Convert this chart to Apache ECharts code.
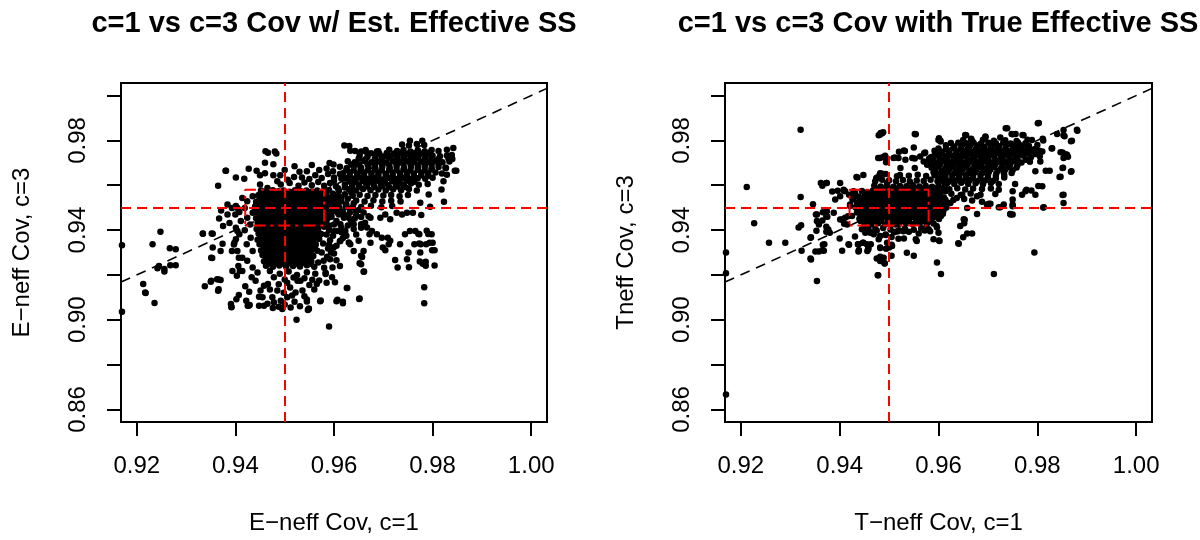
<!DOCTYPE html>
<html>
<head>
<meta charset="utf-8">
<script src="https://cdn.jsdelivr.net/npm/echarts@6/dist/echarts.min.js"></script>
<style>
html, body { margin: 0; background: #fff; }
#chart { width: 1200px; height: 540px; }
</style>
</head>
<body>
<div id="chart"></div>
<script>
// axis ranges and ticks
var xMin = 0.9168, xMax = 1.0032;
var yMin = 0.8544, yMax = 1.0056;
var xTicks = [0.92, 0.94, 0.96, 0.98, 1.00];
var yTicks = [0.86, 0.88, 0.90, 0.92, 0.94, 0.96, 0.98, 1.00];
var yLabels = [0.86, 0.90, 0.94, 0.98];
var nominal = 0.95;
var ciLow = 0.942, ciHigh = 0.958;

// ---- left panel: estimated effective sample size ----
var estCore = [
[.9452,.9577],[.9463,.9572],[.9476,.9578],[.9487,.9573],[.9498,.9576],[.9510,.9571],[.9521,.9578],[.9532,.9574],[.9544,.9577],[.9555,.9572],[.9566,.9576],[.9578,.9573],[.9590,.9578],
[.9446,.9553],[.9457,.9549],[.9469,.9554],[.9480,.9548],[.9492,.9552],[.9503,.9550],[.9515,.9555],[.9526,.9549],[.9538,.9553],[.9549,.9548],[.9560,.9552],[.9572,.9550],[.9584,.9554],[.9596,.9549],[.9609,.9553],
[.9442,.9525],[.9452,.9529],[.9463,.9524],[.9475,.9530],[.9486,.9526],[.9497,.9528],[.9509,.9523],[.9520,.9529],[.9532,.9525],[.9543,.9530],[.9555,.9524],[.9566,.9528],[.9578,.9526],[.9590,.9530],[.9602,.9524],[.9615,.9528],
[.9440,.9505],[.9449,.9500],[.9460,.9506],[.9471,.9501],[.9483,.9504],[.9494,.9499],[.9506,.9506],[.9517,.9502],[.9529,.9505],[.9540,.9500],[.9552,.9504],[.9563,.9501],[.9575,.9506],[.9586,.9502],[.9598,.9505],[.9611,.9500],[.9624,.9504],
[.9438,.9481],[.9447,.9477],[.9458,.9482],[.9469,.9476],[.9480,.9480],[.9492,.9478],[.9503,.9482],[.9515,.9477],[.9526,.9481],[.9538,.9476],[.9549,.9480],[.9561,.9478],[.9572,.9482],[.9584,.9477],[.9596,.9481],[.9608,.9476],
[.9442,.9453],[.9453,.9457],[.9464,.9452],[.9475,.9458],[.9487,.9454],[.9498,.9456],[.9510,.9451],[.9521,.9457],[.9533,.9453],[.9544,.9458],[.9556,.9452],[.9567,.9456],[.9579,.9454],[.9591,.9457],
[.9445,.9433],[.9456,.9429],[.9467,.9434],[.9479,.9428],[.9490,.9432],[.9502,.9430],[.9513,.9435],[.9525,.9429],[.9536,.9433],[.9548,.9428],[.9559,.9432],[.9571,.9430],[.9582,.9434],
[.9443,.9405],[.9453,.9409],[.9464,.9404],[.9476,.9410],[.9487,.9406],[.9499,.9408],[.9510,.9403],[.9522,.9409],[.9533,.9405],[.9545,.9410],[.9556,.9404],[.9568,.9408],
[.9447,.9385],[.9458,.9381],[.9469,.9386],[.9481,.9380],[.9492,.9384],[.9504,.9382],[.9515,.9387],[.9527,.9381],[.9538,.9385],[.9550,.9380],[.9562,.9384],[.9574,.9382],
[.9445,.9357],[.9455,.9361],[.9466,.9356],[.9478,.9362],[.9489,.9358],[.9501,.9360],[.9512,.9355],[.9524,.9361],[.9535,.9357],[.9547,.9362],[.9558,.9356],[.9570,.9360],
[.9449,.9337],[.9460,.9333],[.9471,.9338],[.9483,.9332],[.9494,.9336],[.9506,.9334],[.9517,.9339],[.9529,.9333],[.9540,.9337],[.9552,.9332],[.9563,.9336],
[.9452,.9309],[.9463,.9313],[.9474,.9308],[.9486,.9314],[.9497,.9310],[.9509,.9312],[.9520,.9307],[.9532,.9313],[.9543,.9309],[.9555,.9314],[.9566,.9308],
[.9455,.9289],[.9466,.9285],[.9478,.9290],[.9489,.9284],[.9501,.9288],[.9512,.9286],[.9524,.9291],[.9535,.9285],[.9547,.9289],[.9558,.9284],
[.9458,.9261],[.9470,.9265],[.9482,.9260],[.9494,.9266],[.9506,.9262],[.9518,.9264],[.9530,.9259],[.9542,.9265],[.9554,.9261],
[.9462,.9241],[.9476,.9237],[.9489,.9242],[.9503,.9236],[.9517,.9240],[.9531,.9238],[.9545,.9243],[.9560,.9237]
];
var estFill = [
[.9458,.9563],[.9470,.9561],[.9481,.9564],[.9493,.9562],[.9504,.9565],[.9516,.9561],[.9527,.9564],[.9539,.9562],[.9550,.9565],[.9561,.9561],[.9572,.9564],[.9584,.9562],
[.9452,.9539],[.9463,.9541],[.9475,.9538],[.9486,.9540],[.9498,.9537],[.9509,.9541],[.9521,.9538],[.9532,.9540],[.9544,.9537],[.9555,.9541],[.9566,.9538],[.9578,.9540],[.9590,.9537],[.9602,.9541],
[.9446,.9515],[.9457,.9513],[.9469,.9516],[.9480,.9514],[.9492,.9517],[.9503,.9513],[.9515,.9516],[.9526,.9514],[.9538,.9517],[.9549,.9513],[.9560,.9516],[.9572,.9514],[.9584,.9517],[.9596,.9513],[.9608,.9516],
[.9444,.9491],[.9453,.9493],[.9464,.9490],[.9475,.9492],[.9487,.9489],[.9498,.9493],[.9510,.9490],[.9521,.9492],[.9533,.9489],[.9544,.9493],[.9556,.9490],[.9567,.9492],[.9579,.9489],[.9590,.9493],[.9602,.9490],
[.9448,.9467],[.9458,.9465],[.9469,.9468],[.9481,.9466],[.9492,.9469],[.9504,.9465],[.9515,.9468],[.9527,.9466],[.9538,.9469],[.9550,.9465],[.9561,.9468],[.9573,.9466],[.9585,.9469],
[.9450,.9443],[.9461,.9445],[.9472,.9442],[.9484,.9444],[.9495,.9441],[.9507,.9445],[.9518,.9442],[.9530,.9444],[.9541,.9441],[.9553,.9445],[.9564,.9442],[.9576,.9444],
[.9448,.9419],[.9459,.9417],[.9470,.9420],[.9482,.9418],[.9493,.9421],[.9505,.9417],[.9516,.9420],[.9528,.9418],[.9539,.9421],[.9551,.9417],[.9562,.9420],
[.9452,.9395],[.9463,.9397],[.9475,.9394],[.9486,.9396],[.9498,.9393],[.9509,.9397],[.9521,.9394],[.9532,.9396],[.9544,.9393],[.9556,.9397],[.9568,.9394],
[.9450,.9371],[.9461,.9369],[.9472,.9372],[.9484,.9370],[.9495,.9373],[.9507,.9369],[.9518,.9372],[.9530,.9370],[.9541,.9373],[.9553,.9369],[.9564,.9372],
[.9455,.9347],[.9466,.9349],[.9477,.9346],[.9489,.9348],[.9500,.9345],[.9512,.9349],[.9523,.9346],[.9535,.9348],[.9546,.9345],[.9558,.9349],
[.9458,.9323],[.9469,.9321],[.9480,.9324],[.9492,.9322],[.9503,.9325],[.9515,.9321],[.9526,.9324],[.9538,.9322],[.9549,.9325],[.9561,.9321],
[.9461,.9299],[.9472,.9301],[.9484,.9298],[.9495,.9300],[.9507,.9297],[.9518,.9301],[.9530,.9298],[.9541,.9300],[.9553,.9297],
[.9464,.9275],[.9476,.9273],[.9488,.9276],[.9500,.9274],[.9512,.9277],[.9524,.9273],[.9536,.9276],[.9548,.9274],
[.9470,.9251],[.9484,.9253],[.9498,.9250],[.9512,.9252],[.9526,.9249],[.9540,.9253],[.9553,.9250]
];
var estLower = [
[.9445,.9211],[.9441,.9174],[.9451,.9130],[.9455,.9100],[.9465,.9071],[.9458,.9063],[.9475,.9100],[.9485,.9130],[.9492,.9085],[.9505,.9100],
[.9511,.9144],[.9526,.9174],[.9522,.9122],[.9536,.9130],[.9532,.9174],[.9458,.9152],[.9448,.9103],[.9470,.9218],[.9490,.9205],[.9508,.9215],
[.9525,.9200],[.9545,.9212],[.9562,.9205],[.9478,.9190],[.9500,.9180],[.9518,.9188],[.9540,.9185],[.9556,.9178],[.9466,.9160],[.9488,.9158],
[.9505,.9165],[.9550,.9155],[.9470,.9135],[.9498,.9120],[.9515,.9108],[.9540,.9105],[.9478,.9078],[.9500,.9068],[.9520,.9080],[.9488,.9058],
[.9512,.9055],[.9545,.9082],[.9560,.9135],[.9565,.9160],[.9448,.9062],[.9476,.9052],[.9495,.9048],[.9531,.9060],[.9549,.9049],
[.9568,.9255],[.9580,.9232],[.9592,.9270],[.9575,.9300],[.9588,.9318],[.9600,.9295],[.9583,.9210],[.9596,.9190],[.9612,.9240],[.9605,.9265],
[.9578,.9340],[.9592,.9355],[.9605,.9330],[.9618,.9365],[.9585,.9380],[.9600,.9395],[.9615,.9410],[.9590,.9420],[.9605,.9440],[.9620,.9455],
[.9635,.9440],[.9570,.9175],[.9585,.9165],
[.9595,.9460],[.9610,.9470],[.9585,.9445],[.9600,.9425],[.9615,.9390],[.9628,.9420],[.9640,.9405],[.9625,.9375],[.9590,.9400],[.9580,.9415],
[.9612,.9350],[.9630,.9345],[.9645,.9380],[.9655,.9410],[.9590,.9335],[.9598,.9375]
];
var estLeft = [
[.9424,.9455],[.9435,.9477],[.9430,.9425],[.9419,.9399],[.9431,.9366],[.9423,.9337],[.9435,.9307],[.9424,.9263],[.9435,.9233],[.9391,.9070],
[.9425,.9063],[.9404,.9499],[.9400,.9470],[.9411,.9440],[.9401,.9410],[.9408,.9381],[.9398,.9344],[.9404,.9307],[.9414,.9277],[.9406,.9240],
[.9414,.9218],[.9394,.9218],[.9419,.9499],[.9424,.9529],[.9414,.9543],[.9435,.9551],[.9384,.9514],[.9401,.9507],[.9371,.9487],[.9384,.9469],
[.9388,.9432],[.9375,.9418],[.9367,.9452],[.9393,.9499],[.9408,.9481],[.9404,.9396],[.9401,.9359],[.9393,.9307],[.9334,.9385],[.9352,.9385],
[.9354,.9322],[.9351,.9277],[.9370,.9307],[.9374,.9339],[.9397,.9336],[.9407,.9277],[.9409,.9218],[.9403,.9196],[.9420,.9149],[.9407,.9111],
[.9392,.9058],[.9427,.9062],[.9338,.9149],[.9351,.9174],[.9363,.9181],[.9370,.9177],[.9365,.9129],[.9366,.9136],[.9402,.9091],[.9422,.9085],
[.9429,.9066],[.9353,.9275],[.9433,.9190],[.9428,.9125]
];
var estUpper = [
[.9443,.9665],[.9450,.9644],[.9460,.9654],[.9477,.9644],[.9491,.9644],[.9477,.9694],[.9480,.9750],[.9483,.9742],[.9519,.9637],[.9510,.9610],
[.9450,.9603],[.9465,.9588],[.9492,.9603],[.9485,.9618],[.9506,.9625],[.9418,.9629],[.9381,.9665],[.9365,.9598],[.9448,.9558],[.9461,.9752],
[.9466,.9745],[.9460,.9700],[.9427,.9673],[.9401,.9634],[.9528,.9598],[.9540,.9612],[.9555,.9600],[.9568,.9615],[.9580,.9598],[.9592,.9610],
[.9604,.9596],[.9535,.9635],[.9550,.9628],[.9562,.9645],[.9575,.9632],[.9588,.9650],[.9600,.9635],[.9545,.9662],[.9530,.9660],[.9570,.9668],
[.9585,.9675],[.9598,.9662],[.9612,.9650],[.9520,.9685],[.9555,.9690],[.9591,.9699],[.9599,.9692],[.9500,.9668],
[.9598,.9562],[.9610,.9575],[.9622,.9560],[.9615,.9545],[.9628,.9540],[.9622,.9590],[.9608,.9587],[.9635,.9568],[.9612,.9530],[.9625,.9515],
[.9638,.9503],[.9640,.9520],[.9650,.9490],[.9645,.9465],[.9632,.9495],[.9600,.9620],[.9615,.9630]
];
var estBand = [
[.9738,.9782],[.9752,.9777],[.9768,.9784],[.9783,.9779],[.9754,.9798],[.9779,.9798],[.9631,.9775],[.9643,.9753],[.9665,.9749],[.9621,.9777],
[.9633,.9754],[.9655,.9751],[.9687,.9751],[.9709,.9729],[.9727,.9729],
[.9664,.9757],[.9690,.9752],[.9712,.9758],[.9728,.9753],[.9741,.9757],[.9755,.9751],[.9770,.9756],[.9784,.9752],[.9798,.9757],[.9812,.9753],
[.9652,.9732],[.9668,.9727],[.9685,.9733],[.9700,.9728],[.9715,.9731],[.9729,.9726],[.9743,.9732],[.9758,.9728],[.9772,.9733],[.9786,.9727],[.9800,.9731],[.9815,.9729],[.9829,.9733],
[.9628,.9707],[.9642,.9702],[.9660,.9708],[.9676,.9703],[.9690,.9706],[.9705,.9701],[.9720,.9707],[.9734,.9703],[.9748,.9708],[.9762,.9702],[.9777,.9706],[.9791,.9704],[.9805,.9708],[.9820,.9702],[.9834,.9706],
[.9612,.9682],[.9626,.9677],[.9640,.9683],[.9655,.9678],[.9670,.9681],[.9684,.9676],[.9698,.9682],[.9713,.9678],[.9727,.9683],[.9742,.9677],[.9756,.9681],[.9770,.9679],[.9784,.9683],[.9798,.9677],[.9812,.9681],[.9826,.9678],
[.9618,.9653],[.9632,.9658],[.9647,.9652],[.9661,.9657],[.9676,.9654],[.9690,.9656],[.9705,.9651],[.9719,.9657],[.9734,.9653],[.9748,.9658],[.9762,.9652],[.9777,.9656],[.9791,.9654],[.9806,.9657],[.9819,.9652],
[.9625,.9632],[.9640,.9627],[.9654,.9633],[.9668,.9628],[.9683,.9631],[.9697,.9626],[.9712,.9632],[.9726,.9628],[.9741,.9633],[.9755,.9627],[.9770,.9631],[.9785,.9629],[.9800,.9633],
[.9622,.9603],[.9636,.9608],[.9650,.9602],[.9665,.9607],[.9680,.9604],[.9695,.9606],[.9710,.9601],[.9725,.9607],[.9740,.9603],[.9756,.9608],[.9772,.9602],[.9790,.9606],
[.9630,.9582],[.9644,.9577],[.9659,.9583],[.9674,.9578],[.9690,.9581],[.9705,.9576],[.9720,.9582],[.9736,.9578],[.9752,.9583],[.9768,.9577],
[.9638,.9553],[.9652,.9558],[.9668,.9552],[.9684,.9557],[.9700,.9554],[.9716,.9556],[.9733,.9551],[.9750,.9557],
[.9645,.9532],[.9662,.9527],[.9680,.9533],[.9698,.9528],[.9716,.9531],[.9735,.9527],
[.9655,.9503],[.9675,.9508],[.9696,.9502],[.9718,.9507],
[.9842,.9766],[.9839,.9735],[.9829,.9758],[.9832,.9721],[.9827,.9677],[.9845,.9665],[.9829,.9647],[.9822,.9618],[.9818,.9581],[.9792,.9559],
[.9775,.9522],[.9848,.9665],[.9840,.9717],[.9823,.9526],[.9795,.9504],[.9777,.9467],
[.9618,.9482],[.9632,.9477],[.9645,.9483],[.9660,.9478],[.9628,.9457],[.9642,.9452],[.9655,.9458],[.9670,.9462]
];
var estBandFill = [
[.9675,.9743],[.9692,.9741],[.9707,.9744],[.9722,.9742],[.9736,.9745],[.9750,.9741],[.9765,.9744],[.9779,.9742],[.9793,.9745],
[.9650,.9718],[.9664,.9716],[.9683,.9719],[.9697,.9717],[.9712,.9720],[.9727,.9716],[.9741,.9719],[.9755,.9717],[.9769,.9720],[.9784,.9716],[.9798,.9719],[.9812,.9717],
[.9635,.9693],[.9651,.9691],[.9668,.9694],[.9683,.9692],[.9697,.9695],[.9712,.9691],[.9727,.9694],[.9741,.9692],[.9755,.9695],[.9770,.9691],[.9784,.9694],[.9798,.9692],[.9812,.9695],
[.9625,.9668],[.9640,.9666],[.9654,.9669],[.9669,.9667],[.9683,.9670],[.9697,.9666],[.9712,.9669],[.9727,.9667],[.9741,.9670],[.9755,.9666],[.9770,.9669],[.9784,.9667],[.9798,.9670],
[.9632,.9643],[.9647,.9641],[.9661,.9644],[.9676,.9642],[.9690,.9645],[.9705,.9641],[.9719,.9644],[.9734,.9642],[.9748,.9645],[.9762,.9641],[.9777,.9644],[.9791,.9642],
[.9630,.9618],[.9644,.9616],[.9658,.9619],[.9673,.9617],[.9688,.9620],[.9703,.9616],[.9718,.9619],[.9733,.9617],[.9748,.9620],[.9763,.9616],
[.9637,.9593],[.9652,.9591],[.9667,.9594],[.9682,.9592],[.9697,.9595],[.9712,.9591],[.9728,.9594],[.9744,.9592]
];
var estScatter = [
[.9591,.9462],[.9613,.9426],[.9623,.9396],[.9640,.9426],[.9655,.9426],[.9663,.9433],[.9674,.9455],[.9694,.9455],[.9704,.9470],[.9714,.9448],
[.9727,.9477],[.9738,.9470],[.9748,.9477],[.9760,.9477],[.9754,.9396],[.9765,.9396],[.9773,.9381],[.9744,.9381],[.9776,.9337],[.9787,.9337],
[.9798,.9381],[.9800,.9344],[.9804,.9310],[.9751,.9300],[.9734,.9337],[.9724,.9266],[.9729,.9233],[.9699,.9322],[.9704,.9310],[.9711,.9337],
[.9697,.9366],[.9709,.9366],[.9674,.9344],[.9660,.9307],[.9655,.9285],[.9640,.9307],[.9633,.9337],[.9650,.9352],[.9613,.9352],[.9599,.9322],
[.9594,.9300],[.9586,.9281],[.9579,.9263],[.9597,.9233],[.9583,.9204],[.9602,.9167],[.9626,.9142],[.9651,.9093],[.9618,.9074],[.9605,.9083],
[.9572,.9083],[.9545,.9090],[.9547,.9044],[.9590,.8970],[.9783,.9145],[.9783,.9074],[.9786,.9259],[.9786,.9241],[.9804,.9242],[.9660,.9214],
[.9655,.9248],[.9672,.9381],[.9687,.9381],[.9714,.9352],[.9667,.9411],[.9677,.9396],[.9620,.9470],[.9633,.9448],[.9606,.9396],
[.9170,.9332],[.9170,.9036],[.9248,.9393],[.9232,.9337],[.9267,.9319],[.9279,.9314],[.9279,.9243],[.9242,.9230],[.9256,.9226],[.9256,.9215],
[.9213,.9159],[.9218,.9119],[.9236,.9075],[.9334,.9384],[.9354,.9384],[.9380,.9665],[.9350,.9170],[.9366,.9180],[.9392,.9056],[.9524,.9000],
[.9549,.9049],[.9573,.9086],[.9607,.9089],[.9618,.9080],[.9652,.9095],[.9627,.9142],[.9661,.9215],[.9652,.9252],[.9657,.9280],[.9780,.9250],
[.9799,.9310],[.9794,.9344],[.9791,.9383],[.9773,.9340],[.9775,.9300],[.9774,.9260],[.9748,.9270],[.9752,.9234],[.9788,.9397],[.9771,.9384],
[.9763,.9337],[.9268,.9243],[.9245,.9240],[.9217,.9122]
];

// ---- right panel: true effective sample size ----
var trueCore = [
[.9445,.9574],[.9456,.9569],[.9467,.9575],[.9479,.9570],[.9490,.9573],[.9502,.9568],[.9513,.9575],[.9525,.9571],[.9536,.9574],[.9548,.9569],[.9559,.9573],[.9571,.9570],[.9583,.9575],[.9596,.9570],[.9609,.9574],
[.9438,.9550],[.9449,.9546],[.9460,.9551],[.9472,.9545],[.9483,.9549],[.9495,.9547],[.9506,.9552],[.9518,.9546],[.9529,.9550],[.9541,.9545],[.9552,.9549],[.9564,.9547],[.9575,.9551],[.9587,.9546],[.9599,.9550],[.9611,.9545],
[.9435,.9522],[.9445,.9526],[.9456,.9521],[.9467,.9527],[.9479,.9523],[.9490,.9525],[.9502,.9520],[.9513,.9526],[.9525,.9522],[.9536,.9527],[.9548,.9521],[.9559,.9525],[.9571,.9523],[.9583,.9527],[.9595,.9521],[.9607,.9525],[.9619,.9522],
[.9432,.9502],[.9442,.9498],[.9453,.9503],[.9464,.9497],[.9476,.9501],[.9487,.9499],[.9499,.9504],[.9510,.9498],[.9522,.9502],[.9533,.9497],[.9545,.9501],[.9556,.9499],[.9568,.9503],[.9579,.9498],[.9591,.9502],[.9603,.9497],[.9616,.9501],
[.9435,.9478],[.9446,.9474],[.9457,.9479],[.9469,.9473],[.9480,.9477],[.9492,.9475],[.9503,.9480],[.9515,.9474],[.9526,.9478],[.9538,.9473],[.9549,.9477],[.9561,.9475],[.9572,.9479],[.9584,.9474],[.9596,.9478],[.9609,.9473],
[.9440,.9450],[.9451,.9454],[.9462,.9449],[.9474,.9455],[.9485,.9451],[.9497,.9453],[.9508,.9448],[.9520,.9454],[.9531,.9450],[.9543,.9455],[.9554,.9449],[.9566,.9453],[.9577,.9451],[.9589,.9455],[.9601,.9449],
[.9450,.9430],[.9464,.9426],[.9478,.9431],[.9492,.9425],[.9506,.9429],[.9520,.9427],[.9534,.9432],[.9548,.9426],[.9562,.9430],[.9576,.9425],[.9590,.9429],
[.9445,.9404],[.9458,.9408],[.9472,.9405],[.9488,.9409],[.9503,.9403],[.9518,.9395],[.9532,.9407],[.9550,.9402],[.9565,.9408],[.9580,.9404],
[.9470,.9598],[.9483,.9594],[.9496,.9599],[.9509,.9593],[.9522,.9597],[.9535,.9595],[.9548,.9600],[.9561,.9594],[.9574,.9598],[.9587,.9593],[.9600,.9597],[.9612,.9595],
[.9500,.9622],[.9514,.9618],[.9528,.9623],[.9542,.9617],[.9556,.9621],[.9570,.9619],[.9584,.9624],[.9598,.9618],[.9612,.9622],
[.9522,.9646],[.9540,.9642],[.9558,.9647],[.9575,.9641],[.9592,.9645],[.9608,.9643]
];
var trueFill = [
[.9451,.9560],[.9462,.9562],[.9473,.9559],[.9485,.9561],[.9496,.9558],[.9508,.9562],[.9519,.9559],[.9531,.9561],[.9542,.9558],[.9554,.9562],[.9565,.9559],[.9577,.9561],[.9590,.9558],[.9603,.9562],
[.9441,.9536],[.9451,.9534],[.9462,.9537],[.9474,.9535],[.9485,.9538],[.9497,.9534],[.9508,.9537],[.9520,.9535],[.9531,.9538],[.9543,.9534],[.9554,.9537],[.9566,.9535],[.9578,.9538],[.9590,.9534],[.9602,.9537],[.9614,.9535],
[.9437,.9512],[.9448,.9514],[.9459,.9511],[.9470,.9513],[.9482,.9510],[.9493,.9514],[.9505,.9511],[.9516,.9513],[.9528,.9510],[.9539,.9514],[.9551,.9511],[.9562,.9513],[.9574,.9510],[.9586,.9514],[.9598,.9511],[.9610,.9513],
[.9437,.9488],[.9448,.9486],[.9459,.9489],[.9471,.9487],[.9482,.9490],[.9494,.9486],[.9505,.9489],[.9517,.9487],[.9528,.9490],[.9540,.9486],[.9551,.9489],[.9563,.9487],[.9574,.9490],[.9586,.9486],[.9598,.9489],[.9610,.9487],
[.9443,.9464],[.9454,.9466],[.9465,.9463],[.9477,.9465],[.9488,.9462],[.9500,.9466],[.9511,.9463],[.9523,.9465],[.9534,.9462],[.9546,.9466],[.9557,.9463],[.9569,.9465],[.9581,.9462],[.9593,.9466],[.9605,.9463],
[.9446,.9440],[.9457,.9442],[.9470,.9439],[.9484,.9441],[.9498,.9438],[.9512,.9442],[.9526,.9439],[.9540,.9441],[.9555,.9438],[.9569,.9442],[.9583,.9439],
[.9478,.9584],[.9490,.9586],[.9503,.9583],[.9516,.9585],[.9529,.9582],[.9542,.9586],[.9555,.9583],[.9568,.9585],[.9581,.9582],[.9594,.9586],[.9606,.9583]
];
var trueBand = [
[.9650,.9802],[.9668,.9797],[.9690,.9803],[.9712,.9798],[.9735,.9801],[.9758,.9797],[.9780,.9803],
[.9615,.9778],[.9632,.9773],[.9648,.9779],[.9663,.9774],[.9678,.9777],[.9693,.9772],[.9708,.9778],[.9723,.9774],[.9738,.9779],[.9753,.9773],[.9768,.9777],[.9783,.9775],[.9800,.9779],
[.9592,.9754],[.9607,.9749],[.9622,.9755],[.9637,.9750],[.9652,.9753],[.9667,.9748],[.9682,.9754],[.9697,.9750],[.9712,.9755],[.9727,.9749],[.9742,.9753],[.9757,.9751],[.9772,.9755],[.9787,.9750],[.9804,.9754],
[.9585,.9726],[.9600,.9730],[.9614,.9725],[.9628,.9731],[.9642,.9727],[.9656,.9729],[.9670,.9724],[.9684,.9730],[.9698,.9726],[.9712,.9731],[.9727,.9725],[.9742,.9729],[.9757,.9727],[.9772,.9731],[.9787,.9725],[.9805,.9729],
[.9582,.9706],[.9596,.9701],[.9610,.9707],[.9624,.9702],[.9638,.9705],[.9652,.9700],[.9666,.9706],[.9680,.9702],[.9694,.9707],[.9708,.9701],[.9722,.9705],[.9737,.9703],[.9752,.9707],[.9768,.9701],[.9785,.9705],
[.9586,.9678],[.9600,.9682],[.9614,.9677],[.9628,.9683],[.9642,.9679],[.9656,.9681],[.9670,.9676],[.9684,.9682],[.9698,.9678],[.9712,.9683],[.9727,.9677],[.9742,.9681],[.9758,.9679],
[.9590,.9658],[.9604,.9653],[.9618,.9659],[.9632,.9654],[.9646,.9657],[.9660,.9652],[.9674,.9658],[.9688,.9654],[.9702,.9659],[.9717,.9653],[.9732,.9657],[.9748,.9655],
[.9600,.9630],[.9614,.9634],[.9628,.9629],[.9642,.9635],[.9656,.9631],[.9670,.9633],[.9685,.9628],[.9700,.9634],[.9716,.9630],[.9733,.9635],
[.9618,.9610],[.9632,.9605],[.9646,.9611],[.9660,.9606],[.9675,.9609],[.9690,.9604],[.9706,.9610],[.9722,.9606],
[.9622,.9582],[.9638,.9587],[.9654,.9581],[.9670,.9586],[.9688,.9583],[.9706,.9585],
[.9626,.9562],[.9645,.9557],[.9665,.9563],[.9685,.9558],
[.9630,.9534],[.9652,.9539]
];
var trueBandFill = [
[.9625,.9788],[.9640,.9790],[.9656,.9787],[.9671,.9789],[.9686,.9786],[.9701,.9790],[.9716,.9787],[.9731,.9789],[.9746,.9786],[.9761,.9790],[.9776,.9787],
[.9600,.9764],[.9615,.9762],[.9630,.9765],[.9645,.9763],[.9660,.9766],[.9675,.9762],[.9690,.9765],[.9705,.9763],[.9720,.9766],[.9735,.9762],[.9750,.9765],[.9765,.9763],[.9780,.9766],[.9795,.9762],
[.9593,.9740],[.9607,.9742],[.9621,.9739],[.9635,.9741],[.9649,.9738],[.9663,.9742],[.9677,.9739],[.9691,.9741],[.9705,.9738],[.9720,.9742],[.9735,.9739],[.9750,.9741],[.9765,.9738],[.9780,.9742],[.9796,.9739],
[.9589,.9716],[.9603,.9714],[.9617,.9717],[.9631,.9715],[.9645,.9718],[.9659,.9714],[.9673,.9717],[.9687,.9715],[.9701,.9718],[.9715,.9714],[.9730,.9717],[.9745,.9715],[.9760,.9718],[.9777,.9714],
[.9589,.9692],[.9603,.9694],[.9617,.9691],[.9631,.9693],[.9645,.9690],[.9659,.9694],[.9673,.9691],[.9687,.9693],[.9701,.9690],[.9715,.9694],[.9730,.9691],[.9745,.9693],[.9760,.9690],
[.9593,.9668],[.9607,.9666],[.9621,.9669],[.9635,.9667],[.9649,.9670],[.9663,.9666],[.9677,.9669],[.9691,.9667],[.9705,.9670],[.9720,.9666],[.9735,.9669],[.9750,.9667],
[.9600,.9644],[.9614,.9646],[.9628,.9643],[.9642,.9645],[.9656,.9642],[.9670,.9646],[.9685,.9643],[.9700,.9645],[.9716,.9642],[.9733,.9646],
[.9607,.9620],[.9621,.9618],[.9635,.9621],[.9649,.9619],[.9663,.9622],[.9678,.9618],[.9694,.9621],[.9710,.9619]
];
var trueScatter = [
[.9321,.9847],[.9212,.9592],[.9170,.9300],[.9170,.9208],[.9170,.8667],[.9227,.9430],[.9257,.9344],[.9290,.9344],[.9321,.9548],[.9317,.9412],
[.9322,.9422],[.9346,.9515],[.9354,.9470],[.9354,.9440],[.9366,.9480],[.9375,.9459],[.9373,.9415],[.9377,.9403],[.9353,.9397],[.9342,.9368],
[.9323,.9308],[.9342,.9269],[.9351,.9305],[.9354,.9173],[.9368,.9308],[.9366,.9335],[.9365,.9598],[.9374,.9610],[.9385,.9572],[.9396,.9575],
[.9409,.9575],[.9400,.9362],[.9405,.9308],[.9419,.9335],[.9431,.9371],[.9438,.9304],[.9447,.9344],[.9455,.9337],[.9438,.9337],[.9475,.9273],
[.9478,.9199],[.9491,.9252],[.9494,.9317],[.9482,.9320],[.9505,.9286],[.9462,.9388],[.9482,.9374],[.9493,.9380],[.9505,.9335],[.9434,.9637],
[.9448,.9646],[.9474,.9631],[.9486,.9625],[.9482,.9654],[.9478,.9722],[.9487,.9725],[.9492,.9731],[.9494,.9702],[.9479,.9823],[.9486,.9832],
[.9482,.9826],[.9552,.9829],[.9509,.9722],[.9520,.9749],[.9530,.9755],[.9552,.9719],[.9571,.9743],[.9581,.9719],[.9596,.9749],[.9601,.9810],
[.9604,.9798],[.9614,.9731],[.9631,.9725],[.9638,.9731],[.9656,.9823],[.9666,.9805],[.9695,.9814],[.9736,.9854],[.9748,.9829],[.9756,.9829],
[.9772,.9823],[.9801,.9876],[.9812,.9799],[.9829,.9764],[.9840,.9829],[.9853,.9846],[.9868,.9796],[.9881,.9843],[.9853,.9823],[.9851,.9746],
[.9853,.9721],[.9860,.9736],[.9852,.9678],[.9868,.9660],[.9845,.9637],[.9851,.9557],[.9853,.9521],[.9812,.9501],[.9794,.9300],[.9712,.9204],
[.9597,.9255],[.9605,.9204],[.9601,.9353],[.9597,.9412],[.9640,.9341],[.9650,.9368],[.9658,.9385],[.9668,.9385],[.9651,.9448],[.9652,.9430],
[.9644,.9418],[.9746,.9470],[.9750,.9506],[.9341,.9273],[.9358,.9304],[.9365,.9310],[.9341,.9366],[.9352,.9470],[.9365,.9443],[.9358,.9425],
[.9373,.9462],[.9362,.9610],[.9373,.9610],[.9369,.9337],[.9373,.9393],[.9380,.9388],[.9418,.9337],[.9437,.9337],[.9439,.9310],[.9448,.9344],
[.9458,.9322],[.9456,.9307],[.9463,.9337],[.9482,.9322],[.9482,.9281],[.9491,.9251],[.9477,.9198],[.9500,.9322],[.9401,.9447],[.9409,.9428],
[.9417,.9462],[.9421,.9514],[.9426,.9536],[.9431,.9566],[.9419,.9558],[.9436,.9635],[.9459,.9393],[.9452,.9413],[.9442,.9440],[.9483,.9833],
[.9488,.9836],[.9481,.9721],[.9493,.9724],[.9476,.9635],[.9481,.9647],[.9493,.9650],[.9512,.9724],[.9532,.9753],[.9550,.9768],[.9554,.9827],
[.9547,.9721],[.9552,.9677],[.9570,.9706],[.9573,.9746],[.9513,.9393],[.9520,.9399],[.9530,.9363],[.9554,.9359],[.9493,.9378],[.9505,.9369],
[.9513,.9425],[.9803,.9878],[.9739,.9854],[.9880,.9847],[.9870,.9798],[.9855,.9818],[.9830,.9765],[.9847,.9747],[.9857,.9738],[.9862,.9727],
[.9851,.9677],[.9847,.9638],[.9869,.9662],[.9853,.9558],[.9813,.9502],[.9602,.9351],[.9596,.9418],[.9641,.9339],[.9653,.9446],[.9678,.9472],
[.9658,.9499],[.9698,.9514],[.9705,.9517],[.9725,.9502],[.9750,.9514],[.9750,.9470],[.9745,.9472],[.9750,.9536],[.9750,.9573],[.9755,.9606],
[.9776,.9573],[.9788,.9576],[.9796,.9558],[.9802,.9597],[.9810,.9595],[.9806,.9706],[.9811,.9807],[.9796,.9662],[.9794,.9751],[.9783,.9758],
[.9817,.9665],[.9825,.9665],[.9810,.9751],[.9778,.9580],[.9769,.9558],[.9614,.9573],[.9624,.9521],[.9637,.9543],[.9648,.9558],[.9668,.9532],
[.9678,.9551],[.9688,.9526],[.9715,.9561],[.9722,.9580],[.9702,.9517],[.9722,.9502],[.9732,.9514],[.9600,.9802],[.9604,.9795],[.9654,.9824],
[.9666,.9807],[.9695,.9817],[.9712,.9787],[.9725,.9813],[.9750,.9827],[.9770,.9824],[.9789,.9802],[.9764,.9773],[.9756,.9780],[.9401,.9610],
[.9411,.9573],[.9428,.9573],[.9374,.9484],[.9388,.9477],[.9404,.9447],[.9411,.9455],[.9415,.9425],[.9452,.9388],[.9469,.9381],[.9479,.9359],
[.9496,.9344],[.9506,.9329],[.9519,.9361],[.9529,.9395],[.9556,.9351],[.9583,.9395],[.9590,.9359],[.9600,.9388],[.9489,.9277],[.9482,.9262],
[.9458,.9314],[.9438,.9336],[.9536,.9299],[.9550,.9285],[.9472,.9618],[.9486,.9651],[.9496,.9610],[.9516,.9640],[.9523,.9677],[.9519,.9721],
[.9533,.9714],[.9563,.9728],[.9577,.9691],[.9594,.9736],[.9391,.9536],[.9401,.9551],[.9408,.9580],[.9421,.9507],[.9425,.9463],[.9428,.9543],
[.9460,.9392],[.9475,.9398],[.9510,.9390],[.9540,.9392],[.9560,.9385],[.9572,.9398]
];

var estPoints = estCore.concat(estFill, estLower, estLeft, estUpper, estBand, estBandFill, estScatter);
var truePoints = trueCore.concat(trueFill, trueBand, trueBandFill, trueScatter);

var font = '"Liberation Sans", Arial, sans-serif';
var red = '#ff0000';

function makeX(i, name) {
    return {
        gridIndex: i, type: 'value', min: xMin, max: xMax,
        axisLine: {show: false}, splitLine: {show: false},
        axisTick: {customValues: xTicks, length: 14, lineStyle: {color: '#000', width: 2}},
        axisLabel: {customValues: xTicks, formatter: function (v) { return v.toFixed(2); },
            fontSize: 24, color: '#000', fontFamily: font, margin: 44, verticalAlign: 'middle'},
        name: name, nameLocation: 'middle', nameGap: 101,
        nameTextStyle: {fontSize: 24, color: '#000', fontFamily: font, verticalAlign: 'middle'}
    };
}
function makeY(i, name) {
    return {
        gridIndex: i, type: 'value', min: yMin, max: yMax,
        axisLine: {show: false}, splitLine: {show: false},
        axisTick: {customValues: yTicks, length: 14, lineStyle: {color: '#000', width: 2}},
        axisLabel: {customValues: yLabels, formatter: function (v) { return v.toFixed(2); },
            rotate: 90, fontSize: 24, color: '#000', fontFamily: font, margin: 43,
            align: 'center', verticalAlign: 'middle'},
        name: name, nameLocation: 'middle', nameGap: 99,
        nameTextStyle: {fontSize: 24, color: '#000', fontFamily: font, verticalAlign: 'middle'}
    };
}
function panelSeries(i, pts) {
    return [
        {type: 'scatter', xAxisIndex: i, yAxisIndex: i, data: pts, symbolSize: 6.5,
            itemStyle: {color: '#000', opacity: 1}, silent: true, z: 2},
        {type: 'line', xAxisIndex: i, yAxisIndex: i, data: [[xMin, xMin], [xMax, xMax]],
            symbol: 'none', lineStyle: {color: '#000', width: 1.6, type: [10, 7]}, silent: true, z: 3},
        {type: 'line', xAxisIndex: i, yAxisIndex: i, symbol: 'none', silent: true, z: 4,
            data: [[ciLow, ciLow], [ciHigh, ciLow], [ciHigh, ciHigh], [ciLow, ciHigh], [ciLow, ciLow]],
            lineStyle: {color: red, width: 2, type: [3, 5, 12, 5]},
            markLine: {silent: true, symbol: 'none', label: {show: false},
                lineStyle: {color: red, width: 2, type: [10, 6]},
                data: [{xAxis: nominal}, {yAxis: nominal}]}}
    ];
}

var chart = echarts.init(document.getElementById('chart'));
chart.setOption({
    animation: false,
    backgroundColor: '#fff',
    grid: [
        {left: 121, top: 83, width: 426, height: 340, show: true, borderColor: '#000', borderWidth: 2},
        {left: 725, top: 83, width: 427, height: 340, show: true, borderColor: '#000', borderWidth: 2}
    ],
    xAxis: [makeX(0, 'E\u2212neff Cov, c=1'), makeX(1, 'T\u2212neff Cov, c=1')],
    yAxis: [makeY(0, 'E\u2212neff Cov, c=3'), makeY(1, 'Tneff Cov, c=3')],
    graphic: [
        {type: 'text', x: 334, y: 24, style: {text: 'c=1 vs c=3 Cov w/ Est. Effective SS',
            font: 'bold 29px ' + font, fill: '#000', textAlign: 'center', textVerticalAlign: 'middle'}},
        {type: 'text', x: 938, y: 24, style: {text: 'c=1 vs c=3 Cov with True Effective SS',
            font: 'bold 29px ' + font, fill: '#000', textAlign: 'center', textVerticalAlign: 'middle'}}
    ],
    series: panelSeries(0, estPoints).concat(panelSeries(1, truePoints))
});
</script>
</body>
</html>
